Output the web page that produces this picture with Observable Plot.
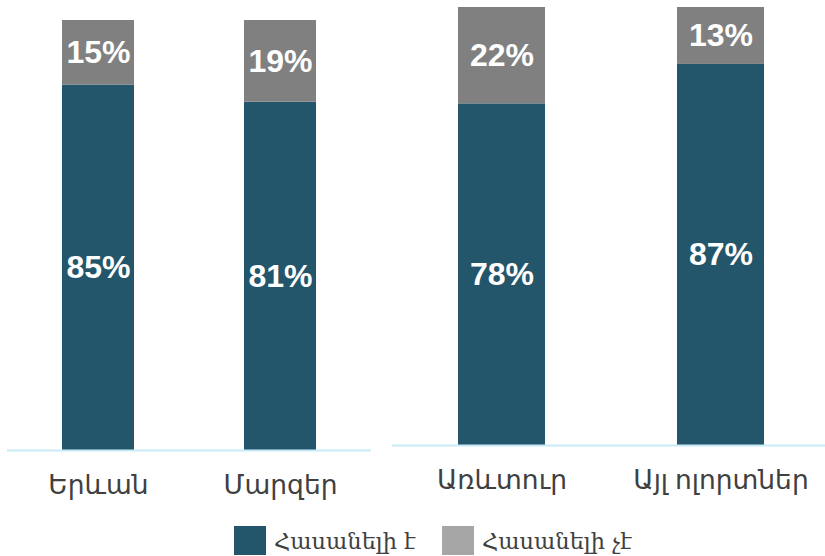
<!DOCTYPE html>
<html>
<head>
<meta charset="utf-8">
<script src="https://cdn.jsdelivr.net/npm/d3@7"></script>
<script src="https://cdn.jsdelivr.net/npm/@observablehq/plot@0.6"></script>
<style>
  html, body { margin: 0; padding: 0; background: #fff; }
  body { width: 825px; height: 556px; overflow: hidden; position: relative; }
  .panel { position: absolute; left: 0; top: 0; }
  .panel svg { max-width: none !important; }
  #legend { position: absolute; left: 0; top: 526px; width: 825px; height: 30px; font-family: "DejaVu Serif", serif; font-size: 22.5px; color: #404040; }
  .item { position: absolute; top: 0; display: flex; align-items: center; height: 29px; }
  .sw { width: 32px; height: 29px; margin-right: 8px; }
</style>
</head>
<body>
<div id="left" class="panel"></div>
<div id="right" class="panel" style="width:840px"></div>
<div id="legend"></div>
<script>
const seriesNames = ["Հաuանելի է", "Հաuանելի չէ"];
const seriesColors = ["#23566B", "#808080"];
const legendColors = ["#23566B", "#A6A6A6"];

const leftCategories = ["Երևան", "Մարզեր"];
const leftYes = [85, 81];
const leftNo = [15, 19];

const rightCategories = ["Առևտուր", "Այլ ոլորտներ"];
const rightYes = [78, 87];
const rightNo = [22, 13];

function rows(cats, yes, no) {
  const out = [];
  cats.forEach((c, i) => out.push({cat: c, series: seriesNames[0], value: yes[i]}));
  cats.forEach((c, i) => out.push({cat: c, series: seriesNames[1], value: no[i]}));
  return out;
}

function panel(cats, yes, no, opts) {
  const data = rows(cats, yes, no);
  return Plot.plot({
    width: opts.width,
    height: opts.height,
    marginLeft: opts.ml,
    marginRight: opts.mr,
    marginTop: opts.mt,
    marginBottom: opts.mb,
    style: {fontFamily: "'Noto Sans', 'DejaVu Sans', sans-serif", background: "transparent", overflow: "visible", maxWidth: "none"},
    x: {domain: cats, paddingInner: 0.604, paddingOuter: 0.302, label: null},
    y: {domain: [0, 100], axis: null},
    color: {domain: seriesNames, range: seriesColors},
    marks: [
      Plot.barY(data, Plot.stackY({x: "cat", y: "value", z: "series", fill: "series", order: seriesNames})),
      Plot.ruleY([0], {stroke: "#C9EAF7", strokeWidth: 2}),
      Plot.text(data, Plot.stackY({x: "cat", y: "value", z: "series", order: seriesNames, text: d => d.value + "%", fill: "white", fontSize: 32, fontWeight: "bold", fontFamily: "'Liberation Sans', Arial, sans-serif"})),
      Plot.axisX({tickSize: 0, tickPadding: opts.tp, fontSize: 26.5, fill: "#404040", label: null})
    ]
  });
}

document.getElementById("left").append(panel(leftCategories, leftYes, leftNo, {width: 380, height: 510, ml: 7, mr: 9, mt: 20, mb: 60, tp: 25}));
document.getElementById("right").append(panel(rightCategories, rightYes, rightNo, {width: 840, height: 510, ml: 392, mr: 10, mt: 7, mb: 65, tp: 25}));

const legend = document.getElementById("legend");
const lx = [234, 442];
seriesNames.forEach((name, i) => {
  const item = document.createElement("div");
  item.className = "item";
  item.style.left = lx[i] + "px";
  const sw = document.createElement("div");
  sw.className = "sw";
  sw.style.background = legendColors[i];
  const t = document.createElement("span");
  t.textContent = name;
  item.append(sw, t);
  legend.append(item);
});
</script>
</body>
</html>
